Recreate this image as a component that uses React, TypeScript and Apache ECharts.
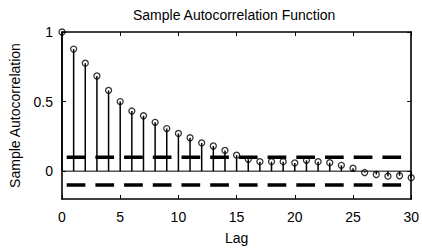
import React, { useEffect, useRef } from "react";
import * as echarts from "echarts";

const lags = [0,1,2,3,4,5,6,7,8,9,10,11,12,13,14,15,16,17,18,19,20,21,22,23,24,25,26,27,28,29,30];
const acf = [1,0.877,0.776,0.684,0.58,0.5,0.432,0.398,0.351,0.306,0.271,0.24,0.203,0.181,0.149,0.115,0.085,0.068,0.068,0.068,0.059,0.078,0.068,0.061,0.042,0.021,-0.01,-0.024,-0.036,-0.033,-0.047];
const bounds = [0.1, -0.1];
const xTicks = [0,5,10,15,20,25,30];
const yTicks = [0,0.5,1];

export default function App() {
  const ref = useRef<HTMLDivElement>(null);
  useEffect(() => {
    const chart = echarts.init(ref.current!, null, { renderer: "svg" });
    const font = "Liberation Sans, Arial, sans-serif";
    const pts = lags.map((l, i) => [l, acf[i]]);
    const xBase = {
      type: "value", min: 0, max: 30, interval: 5,
      splitLine: { show: false },
      axisLine: { show: true, onZero: false, lineStyle: { color: "#000", width: 1.6 } },
    };
    const yBase = {
      type: "value", min: -0.2, max: 1,
      splitLine: { show: false },
      axisLine: { show: true, onZero: false, lineStyle: { color: "#000", width: 1.6 } },
    };
    chart.setOption({
      animation: false,
      title: {
        text: "Sample Autocorrelation Function",
        left: 128, top: 3,
        textStyle: { fontFamily: font, fontSize: 14, fontWeight: "normal", color: "#000" },
      },
      grid: { left: 61, top: 32, right: 6, bottom: 48 },
      xAxis: [
        {
          ...xBase, position: "bottom",
          name: "Lag", nameLocation: "middle", nameGap: 32,
          nameTextStyle: { fontFamily: font, fontSize: 14, color: "#000" },
          axisTick: { show: true, inside: true, length: 4, lineStyle: { color: "#000" } },
          axisLabel: { show: true, margin: 11, fontFamily: font, fontSize: 14, color: "#000", customValues: xTicks },
        },
        {
          ...xBase, position: "top",
          axisTick: { show: true, inside: true, length: 4, lineStyle: { color: "#000" } },
          axisLabel: { show: false },
        },
      ],
      yAxis: [
        {
          ...yBase, position: "left",
          name: "Sample Autocorrelation", nameLocation: "middle", nameGap: 40,
          nameTextStyle: { fontFamily: font, fontSize: 14, color: "#000" },
          axisTick: { show: true, inside: true, length: 4, customValues: yTicks, lineStyle: { color: "#000" } },
          axisLabel: { show: true, margin: 9, fontFamily: font, fontSize: 14, color: "#000", customValues: yTicks },
        },
        {
          ...yBase, position: "right",
          axisTick: { show: true, inside: true, length: 4, customValues: yTicks, lineStyle: { color: "#000" } },
          axisLabel: { show: false },
        },
      ],
      series: [
        {
          type: "line", data: [[0, 0], [30, 0]], symbol: "none",
          lineStyle: { color: "#000", width: 1 }, silent: true,
        },
        ...bounds.map((b) => ({
          type: "line", data: [[0, b], [30, b]], symbol: "none",
          lineStyle: { color: "#000", width: 3.5, type: [18.7, 10], dashOffset: 24, cap: "butt" },
          silent: true,
        })),
        {
          type: "custom",
          data: pts,
          clip: false,
          renderItem: (params: any, api: any) => {
            const x = api.value(0);
            const v = api.value(1);
            const p0 = api.coord([x, 0]);
            const p1 = api.coord([x, v]);
            return {
              type: "line",
              shape: { x1: p0[0], y1: p0[1], x2: p1[0], y2: p1[1] },
              style: { stroke: "#000", lineWidth: 1.5 },
            };
          },
        },
        {
          type: "scatter", data: pts, symbol: "circle", symbolSize: 6, clip: false,
          itemStyle: { color: "transparent", borderColor: "#000", borderWidth: 1.3 },
        },
      ],
    });
    return () => chart.dispose();
  }, []);
  return <div ref={ref} style={{ position: "fixed", left: 0, top: 0, width: 422, height: 250, background: "#fff" }} />;
}
